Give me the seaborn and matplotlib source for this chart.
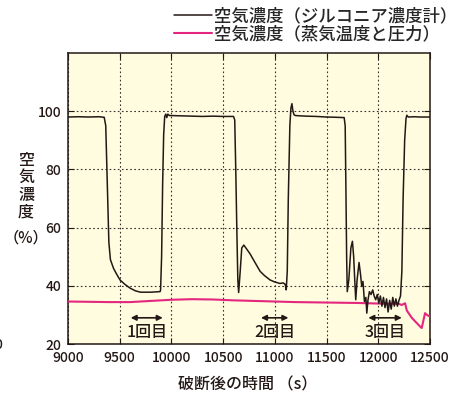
import matplotlib
matplotlib.use("Agg")
import matplotlib.pyplot as plt
import numpy as np
import pandas as pd
import seaborn as sns

# --------------------------------------------------------------------------- #
# データ
# --------------------------------------------------------------------------- #
zr_time = [
    9000, 9100, 9200, 9300, 9350, 9365, 9380, 9395, 9410, 9440, 9470, 9503,
    9550, 9600, 9650, 9700, 9800, 9890, 9895, 9905, 9915, 9925, 9935, 9945,
    9955, 9965, 9980, 10000, 10100, 10200, 10300, 10400, 10500, 10600, 10612,
    10622, 10632, 10642, 10650, 10665, 10680, 10700, 10730, 10760, 10800,
    10857, 10900, 10954, 11000, 11050, 11080, 11100, 11110, 11120, 11130,
    11145, 11155, 11165, 11175, 11185, 11200, 11300, 11400, 11500, 11600,
    11670, 11680, 11688, 11694, 11700, 11715, 11735, 11750, 11762, 11775,
    11782, 11795, 11814, 11828, 11840, 11852, 11866, 11880, 11889, 11900,
    11914, 11930, 11946, 11960, 11975, 11990, 12005, 12020, 12035, 12050,
    12065, 12080, 12095, 12110, 12125, 12140, 12155, 12170, 12185, 12200,
    12215, 12228, 12240, 12255, 12268, 12276, 12290, 12350, 12400, 12500,
]
zr_conc = [
    98.0, 98.1, 98.0, 98.1, 97.9, 95.0, 75.0, 55.0, 49.0, 46.0, 44.0, 42.0,
    40.5, 39.2, 38.3, 37.8, 37.8, 38.0, 38.5, 50.0, 75.0, 92.0, 98.2, 99.0,
    97.8, 99.0, 98.5, 98.5, 98.4, 98.3, 98.2, 98.3, 98.2, 98.2, 97.0,
    80.0, 60.0, 42.0, 37.7, 45.0, 53.0, 54.0, 52.5, 51.0, 48.5,
    45.0, 43.5, 42.0, 41.3, 40.8, 41.0, 40.5, 38.6, 45.0, 70.0,
    95.0, 101.0, 102.6, 100.0, 98.8, 98.5, 98.3, 98.2, 98.0, 97.9,
    97.8, 95.0, 70.0, 50.0, 38.0, 42.0, 53.0, 55.3, 50.0, 40.0,
    35.2, 42.0, 48.0, 44.0, 39.8, 41.5, 34.6, 36.0, 30.6, 35.0,
    38.0, 37.0, 38.6, 36.5, 35.2, 37.0, 34.0, 36.5, 33.0, 36.0,
    32.5, 35.5, 31.0, 35.0, 32.0, 36.0, 33.0, 35.5, 33.0, 35.0,
    36.5, 45.0, 70.0, 90.0, 97.5, 98.6, 98.0, 98.1, 98.0, 98.0,
]

steam_time = [
    9000, 9200, 9400, 9600, 9800, 10000, 10200, 10400, 10600, 10800, 11000,
    11200, 11400, 11600, 11800, 12000, 12200, 12226, 12259, 12276, 12324,
    12372, 12404, 12420, 12436, 12452, 12470, 12500,
]
steam_conc = [
    34.6, 34.5, 34.4, 34.4, 34.8, 35.2, 35.4, 35.3, 35.0, 34.8, 34.6,
    34.4, 34.3, 34.2, 34.1, 33.9, 33.8, 33.4, 34.0, 31.5, 29.0,
    27.2, 26.0, 25.5, 28.0, 30.6, 30.0, 29.4,
]

label_zr = "空気濃度（ジルコニア濃度計）"
label_steam = "空気濃度（蒸気温度と圧力）"

# 区間矢印 (開始, 終了, ラベル)
span_start = [9606, 10866, 11904]
span_end = [9916, 11131, 12227]
span_label = ["1回目", "2回目", "3回目"]

x_ticks = [9000, 9500, 10000, 10500, 11000, 11500, 12000, 12500]
y_ticks = [20, 40, 60, 80, 100]

COLOR_BG = "#FFFCDF"
COLOR_ZR = "#231815"
COLOR_STEAM = "#E4267F"
TXT = "#231815"

# --------------------------------------------------------------------------- #
sns.set_style("ticks")
plt.rcParams["font.family"] = ["Noto Sans CJK JP", "DejaVu Sans"]
plt.rcParams["font.weight"] = 500

fig = plt.figure(figsize=(4.63, 3.97), dpi=100)
ax = fig.add_axes([68 / 463, 1 - 344 / 397, (430 - 68) / 463, (344 - 53) / 397])
ax.set_facecolor(COLOR_BG)

df_zr = pd.DataFrame({"t": zr_time, "c": zr_conc})
df_st = pd.DataFrame({"t": steam_time, "c": steam_conc})

sns.lineplot(data=df_st, x="t", y="c", ax=ax, color=COLOR_STEAM, lw=1.5,
             estimator=None, sort=False, label=label_steam, zorder=3)
sns.lineplot(data=df_zr, x="t", y="c", ax=ax, color=COLOR_ZR, lw=1.1,
             estimator=None, sort=False, label=label_zr, zorder=4)

ax.set_xlim(9000, 12500)
ax.set_ylim(20, 120)
ax.set_xticks(x_ticks)
ax.set_yticks(y_ticks)
ax.tick_params(direction="in", top=True, right=True, length=4, width=0.8,
               labelsize=10, pad=5, colors=TXT)
ax.set_xlabel("")
ax.set_ylabel("")
for s in ax.spines.values():
    s.set_color(TXT)
    s.set_linewidth(1.1)
ax.grid(True, color="#333333", linestyle=(0, (1.5, 2.2)), linewidth=0.8)

# 区間矢印
for x0, x1, lab in zip(span_start, span_end, span_label):
    ax.annotate("", xy=(x0, 29), xytext=(x1, 29),
                arrowprops=dict(arrowstyle="<|-|>", color=TXT, lw=1.2,
                                mutation_scale=8, shrinkA=0, shrinkB=0),
                zorder=5)
    ax.text((x0 + x1) / 2, 23.8, lab, ha="center", va="center",
            fontsize=11.5, color=TXT, zorder=5)

# 軸ラベル
fig.text(248 / 463, 1 - 385 / 397, "破断後の時間 （s）", ha="center",
         va="center", fontsize=11.5, color=TXT)
fig.text(26 / 463, 1 - 186 / 397, "空\n気\n濃\n度", ha="center", va="center",
         fontsize=11.5, linespacing=1.0, color=TXT)
fig.text(26 / 463, 1 - 238 / 397, "（%）", ha="center", va="center",
         fontsize=11, color=TXT)
fig.text(-0.012, 1 - 345 / 397, "0", ha="left", va="center", fontsize=10,
         color=TXT)

# 凡例
ax.legend_.remove()
h, l = ax.get_legend_handles_labels()
fig.legend(h[::-1], l[::-1], loc="upper left",
           bbox_to_anchor=(174 / 463, 1 - 7 / 397), frameon=False,
           fontsize=12.5, handlelength=2.2, handletextpad=0.1,
           labelspacing=0.0, borderpad=0, borderaxespad=0)

fig.savefig("out.png", dpi=100)
